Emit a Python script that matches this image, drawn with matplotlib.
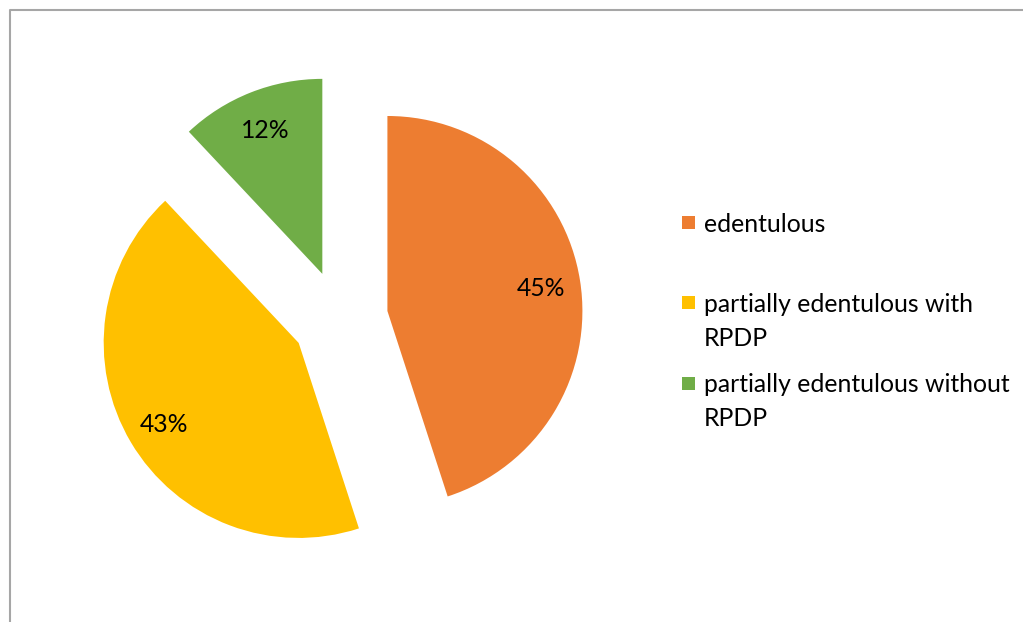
import matplotlib.pyplot as plt
from matplotlib.patches import Rectangle

# slice data
categories = ["edentulous", "partially edentulous with\nRPDP", "partially edentulous without\nRPDP"]
shares = [45, 43, 12]
colors = ["#ED7D31", "#FFC000", "#70AD47"]

W, H = 1023, 622
plt.rcParams['font.family'] = ['Lato', 'DejaVu Sans']

fig = plt.figure(figsize=(W / 100, H / 100), dpi=100)
ax = fig.add_axes([0, 0, 1, 1])

# pie is laid out in pixel units, y pointing up
cx, cy, r = 340, H - 318.5, 195
wedges, texts, autotexts = ax.pie(
    shares, colors=colors, startangle=90, counterclock=False,
    center=(cx, cy), radius=r, explode=[48] * len(shares),
    autopct='%1.0f%%', pctdistance=0.8,
    textprops=dict(fontsize=17.8, color='black'),
    wedgeprops=dict(linewidth=0),
)
for t in autotexts:
    t.set_va('center_baseline')

# legend drawn by hand so the long names wrap like the original
leg_x, leg_y, leg_step, line_gap = 682, H - 222, 80.5, 34
for i, (name, col) in enumerate(zip(categories, colors)):
    y0 = leg_y - i * leg_step
    ax.add_patch(Rectangle((leg_x, y0 - 6.5), 13, 13, color=col, lw=0))
    for j, line in enumerate(name.split("\n")):
        ax.text(leg_x + 22, y0 - j * line_gap, line, fontsize=17.8,
                va='center_baseline', ha='left', color='black')

# chart area frame (only top and left edges visible)
ax.plot([9.5, 9.5, W], [0, H - 10, H - 10], color='#A6A6A6', lw=1.5,
        solid_capstyle='butt')

ax.set_xlim(0, W)
ax.set_ylim(0, H)
ax.set_aspect('equal')
ax.axis('off')

fig.savefig("out.png", dpi=100, facecolor='white')
